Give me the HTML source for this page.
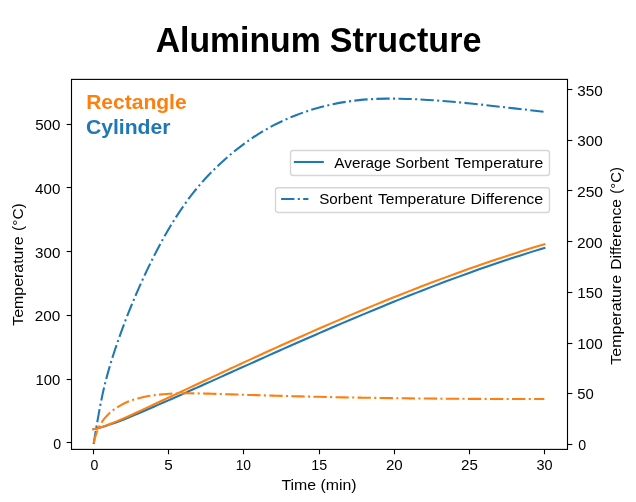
<!DOCTYPE html>
<html><head><meta charset="utf-8"><title>Aluminum Structure</title>
<style>html,body{margin:0;padding:0;background:#fff;}body{width:636px;height:502px;overflow:hidden;font-family:"Liberation Sans",sans-serif;}svg{display:block;will-change:transform;}</style></head>
<body>
<svg width="636" height="502" viewBox="0 0 636 502" font-family="'Liberation Sans', sans-serif">
<rect width="636" height="502" fill="#fff"/>
<g>
<g fill="none" stroke-width="2.08" stroke-linejoin="round">
<path d="M93.50,429.30C94.15,429.16 94.79,429.01 95.44,428.85C96.50,428.60 97.56,428.33 98.62,428.05C99.92,427.70 101.23,427.33 102.53,426.95C104.02,426.51 105.52,426.04 107.01,425.56C108.66,425.02 110.31,424.46 111.97,423.88C113.76,423.25 115.55,422.59 117.34,421.92C119.25,421.20 121.16,420.45 123.08,419.69C125.10,418.89 127.13,418.07 129.16,417.23C131.29,416.35 133.42,415.45 135.55,414.55C137.78,413.61 140.00,412.66 142.23,411.70C144.55,410.71 146.87,409.71 149.19,408.71C151.59,407.67 154.00,406.63 156.40,405.58C158.89,404.50 161.37,403.41 163.86,402.32C166.42,401.20 168.99,400.07 171.55,398.94C174.19,397.78 176.83,396.61 179.47,395.44C182.18,394.24 184.89,393.03 187.60,391.82C190.37,390.59 193.15,389.34 195.93,388.10C198.78,386.83 201.62,385.55 204.47,384.28C207.37,382.97 210.28,381.66 213.19,380.36C216.16,379.02 219.13,377.68 222.10,376.34C225.13,374.98 228.16,373.61 231.19,372.25C234.28,370.86 237.37,369.46 240.46,368.07C243.60,366.66 246.75,365.24 249.90,363.83C253.10,362.39 256.30,360.96 259.50,359.52C262.75,358.07 266.01,356.61 269.26,355.16C272.57,353.68 275.87,352.21 279.18,350.74C282.54,349.25 285.90,347.76 289.26,346.27C292.66,344.76 296.07,343.26 299.48,341.76C302.94,340.24 306.40,338.73 309.85,337.21C313.36,335.68 316.86,334.16 320.37,332.63C323.92,331.09 327.47,329.56 331.03,328.03C334.63,326.48 338.22,324.94 341.82,323.40C345.47,321.85 349.11,320.30 352.75,318.76C356.44,317.20 360.13,315.65 363.82,314.11C367.55,312.55 371.28,310.99 375.01,309.45C378.79,307.89 382.56,306.34 386.34,304.80C390.16,303.24 393.97,301.70 397.79,300.16C401.65,298.61 405.51,297.07 409.37,295.54C413.27,293.99 417.16,292.46 421.06,290.94C425.00,289.40 428.94,287.88 432.88,286.37C436.86,284.85 440.84,283.33 444.82,281.84C448.84,280.33 452.86,278.84 456.87,277.36C460.93,275.86 464.99,274.39 469.04,272.93C473.14,271.45 477.23,270.00 481.33,268.56C485.46,267.11 489.59,265.68 493.72,264.26C497.89,262.84 502.06,261.43 506.23,260.04C510.44,258.65 514.64,257.27 518.85,255.91C523.09,254.55 527.33,253.20 531.57,251.88C535.85,250.55 540.12,249.24 544.40,247.95" stroke="#1f77b4" stroke-linecap="square"/>
<path d="M93.50,429.30C94.15,429.14 94.79,428.97 95.44,428.79C96.50,428.50 97.56,428.20 98.62,427.88C99.92,427.49 101.23,427.08 102.53,426.65C104.02,426.16 105.52,425.65 107.01,425.12C108.66,424.52 110.31,423.91 111.97,423.27C113.76,422.57 115.55,421.85 117.34,421.11C119.25,420.32 121.16,419.50 123.08,418.67C125.10,417.78 127.13,416.88 129.16,415.96C131.29,414.99 133.42,414.01 135.55,413.03C137.78,412.00 140.00,410.96 142.23,409.92C144.55,408.84 146.87,407.76 149.19,406.67C151.59,405.55 154.00,404.42 156.40,403.30C158.89,402.13 161.37,400.97 163.86,399.80C166.42,398.60 168.99,397.40 171.55,396.19C174.19,394.95 176.83,393.71 179.47,392.47C182.18,391.20 184.89,389.93 187.60,388.66C190.37,387.35 193.15,386.05 195.93,384.74C198.78,383.41 201.62,382.07 204.47,380.74C207.37,379.38 210.28,378.01 213.19,376.65C216.16,375.26 219.13,373.88 222.10,372.49C225.13,371.08 228.16,369.67 231.19,368.26C234.28,366.83 237.37,365.39 240.46,363.97C243.60,362.51 246.75,361.06 249.90,359.62C253.10,358.14 256.30,356.68 259.50,355.21C262.75,353.73 266.01,352.24 269.26,350.77C272.57,349.27 275.87,347.77 279.18,346.28C282.54,344.77 285.90,343.26 289.26,341.76C292.66,340.23 296.07,338.72 299.48,337.20C302.94,335.67 306.40,334.14 309.85,332.63C313.36,331.09 316.86,329.55 320.37,328.03C323.92,326.48 327.47,324.94 331.03,323.41C334.63,321.86 338.22,320.32 341.82,318.79C345.47,317.23 349.11,315.69 352.75,314.16C356.44,312.60 360.13,311.06 363.82,309.53C367.55,307.98 371.28,306.43 375.01,304.90C378.79,303.36 382.56,301.82 386.34,300.29C390.16,298.75 393.97,297.22 397.79,295.70C401.65,294.16 405.51,292.64 409.37,291.13C413.27,289.60 417.16,288.09 421.06,286.59C425.00,285.07 428.94,283.57 432.88,282.08C436.86,280.58 440.84,279.09 444.82,277.62C448.84,276.13 452.86,274.66 456.87,273.20C460.93,271.73 464.99,270.28 469.04,268.84C473.14,267.39 477.23,265.96 481.33,264.54C485.46,263.11 489.59,261.70 493.72,260.31C497.89,258.90 502.06,257.52 506.23,256.15C510.44,254.77 514.64,253.41 518.85,252.08C523.09,250.73 527.33,249.40 531.57,248.09C535.85,246.77 540.12,245.47 544.40,244.20" stroke="#ff7f0e" stroke-linecap="square"/>
<path d="M93.60,444.00C93.64,443.75 93.68,443.51 93.72,443.26C93.81,442.76 93.89,442.26 93.98,441.75C94.09,441.07 94.21,440.39 94.32,439.71C94.46,438.87 94.60,438.03 94.74,437.20C94.90,436.23 95.06,435.25 95.22,434.28C95.40,433.19 95.59,432.09 95.77,431.00C95.97,429.79 96.17,428.58 96.37,427.37C96.60,426.05 96.82,424.74 97.04,423.42C97.28,422.01 97.53,420.59 97.78,419.17C98.04,417.66 98.31,416.15 98.58,414.64C98.86,413.03 99.16,411.43 99.45,409.83C99.77,408.14 100.09,406.45 100.42,404.76C100.76,402.98 101.11,401.21 101.48,399.44C101.86,397.59 102.25,395.73 102.65,393.88C103.07,391.95 103.51,390.02 103.96,388.10C104.43,386.09 104.91,384.09 105.42,382.09C105.94,380.01 106.49,377.94 107.05,375.87C107.63,373.73 108.23,371.59 108.84,369.45C109.48,367.24 110.14,365.03 110.81,362.83C111.50,360.56 112.21,358.29 112.94,356.03C113.69,353.69 114.45,351.36 115.23,349.04C116.03,346.65 116.84,344.26 117.67,341.88C118.52,339.43 119.38,336.99 120.26,334.56C121.15,332.06 122.06,329.56 122.99,327.08C123.94,324.52 124.90,321.98 125.87,319.44C126.87,316.84 127.88,314.25 128.91,311.67C129.97,309.02 131.03,306.39 132.12,303.76C133.23,301.07 134.35,298.39 135.49,295.72C136.66,292.99 137.84,290.27 139.04,287.56C140.26,284.79 141.51,282.03 142.77,279.29C144.06,276.48 145.36,273.69 146.69,270.91C148.04,268.07 149.41,265.25 150.80,262.44C152.21,259.57 153.65,256.72 155.11,253.87C156.59,250.98 158.10,248.10 159.63,245.23C161.20,242.31 162.78,239.41 164.41,236.52C166.06,233.58 167.74,230.65 169.47,227.74C171.22,224.79 173.02,221.84 174.87,218.92C176.75,215.94 178.68,212.98 180.67,210.05C182.69,207.07 184.76,204.12 186.89,201.20C189.06,198.24 191.27,195.32 193.55,192.46C195.86,189.54 198.22,186.68 200.64,183.89C203.09,181.05 205.60,178.28 208.17,175.57C210.77,172.82 213.43,170.13 216.14,167.50C218.89,164.83 221.69,162.22 224.56,159.66C227.46,157.07 230.41,154.54 233.42,152.08C236.47,149.58 239.58,147.16 242.74,144.80C245.94,142.42 249.20,140.12 252.51,137.90C255.86,135.65 259.27,133.49 262.72,131.42C266.23,129.33 269.78,127.34 273.39,125.45C277.04,123.53 280.75,121.73 284.50,120.02C288.30,118.30 292.14,116.68 296.03,115.17C299.96,113.64 303.94,112.22 307.95,110.91C312.02,109.58 316.12,108.37 320.25,107.26C324.43,106.14 328.64,105.13 332.89,104.24C337.18,103.33 341.50,102.54 345.84,101.86C350.22,101.17 354.64,100.60 359.06,100.14C363.54,99.68 368.03,99.33 372.53,99.09C377.08,98.84 381.64,98.70 386.21,98.64C390.82,98.57 395.43,98.60 400.04,98.69C404.70,98.78 409.36,98.94 414.00,99.15C418.69,99.36 423.37,99.62 428.03,99.92C432.74,100.22 437.44,100.55 442.13,100.92C446.86,101.29 451.59,101.70 456.31,102.13C461.07,102.57 465.83,103.03 470.59,103.51C475.39,104.00 480.19,104.51 484.99,105.04C489.83,105.57 494.68,106.11 499.53,106.66C504.43,107.22 509.34,107.78 514.25,108.35C519.21,108.92 524.18,109.49 529.16,110.06C534.19,110.63 539.24,111.20 544.30,111.75" stroke="#1f77b4" stroke-dasharray="13.33 3.33 2.08 3.33"/>
<path d="M93.60,444.00C93.64,443.82 93.67,443.64 93.71,443.46C93.79,443.09 93.87,442.73 93.95,442.36C94.06,441.87 94.17,441.37 94.28,440.88C94.42,440.27 94.57,439.67 94.72,439.07C94.90,438.37 95.08,437.67 95.28,436.98C95.50,436.20 95.73,435.43 95.97,434.66C96.24,433.81 96.52,432.97 96.83,432.14C97.16,431.23 97.51,430.33 97.88,429.45C98.29,428.49 98.72,427.55 99.19,426.63C99.68,425.64 100.21,424.67 100.78,423.73C101.38,422.72 102.02,421.73 102.70,420.78C103.41,419.76 104.17,418.78 104.97,417.82C105.82,416.82 106.71,415.85 107.64,414.92C108.62,413.94 109.64,413.00 110.70,412.10C111.81,411.16 112.95,410.27 114.13,409.42C115.35,408.53 116.60,407.69 117.88,406.90C119.20,406.08 120.55,405.32 121.92,404.60C123.33,403.85 124.77,403.16 126.23,402.51C127.74,401.85 129.27,401.23 130.82,400.66C132.42,400.08 134.04,399.54 135.67,399.05C137.36,398.54 139.06,398.08 140.77,397.67C142.54,397.24 144.32,396.85 146.11,396.51C147.95,396.16 149.81,395.84 151.66,395.57C153.57,395.28 155.49,395.04 157.41,394.82C159.38,394.60 161.35,394.41 163.32,394.24C165.34,394.07 167.36,393.93 169.38,393.81C171.45,393.69 173.52,393.60 175.58,393.52C177.70,393.44 179.81,393.39 181.92,393.36C184.08,393.32 186.24,393.31 188.40,393.31C190.60,393.31 192.80,393.32 195.01,393.35C197.25,393.38 199.50,393.43 201.75,393.48C204.04,393.53 206.33,393.60 208.62,393.66C210.96,393.73 213.29,393.81 215.63,393.88C218.00,393.95 220.38,394.03 222.76,394.10C225.18,394.18 227.60,394.26 230.02,394.33C232.48,394.41 234.94,394.49 237.40,394.56C239.90,394.64 242.41,394.72 244.91,394.80C247.45,394.88 250.00,394.95 252.54,395.03C255.12,395.11 257.71,395.19 260.29,395.27C262.91,395.34 265.54,395.42 268.16,395.50C270.82,395.58 273.49,395.65 276.15,395.73C278.85,395.80 281.55,395.88 284.26,395.95C287.00,396.03 289.74,396.10 292.48,396.17C295.26,396.25 298.04,396.32 300.82,396.39C303.64,396.46 306.45,396.53 309.27,396.59C312.13,396.66 314.98,396.73 317.84,396.79C320.73,396.86 323.62,396.92 326.52,396.99C329.45,397.05 332.38,397.11 335.31,397.17C338.27,397.23 341.24,397.29 344.21,397.35C347.21,397.41 350.21,397.47 353.22,397.52C356.26,397.58 359.30,397.63 362.34,397.68C365.41,397.73 368.49,397.79 371.56,397.83C374.67,397.88 377.78,397.93 380.90,397.98C384.04,398.03 387.19,398.07 390.34,398.11C393.52,398.16 396.70,398.20 399.88,398.24C403.10,398.28 406.32,398.32 409.54,398.36C412.79,398.40 416.04,398.43 419.29,398.47C422.58,398.50 425.87,398.53 429.15,398.56C432.47,398.59 435.79,398.62 439.12,398.65C442.47,398.68 445.83,398.70 449.18,398.73C452.57,398.75 455.96,398.77 459.35,398.80C462.77,398.82 466.19,398.83 469.62,398.85C473.07,398.87 476.53,398.88 479.99,398.90C483.48,398.91 486.97,398.92 490.46,398.93C493.98,398.94 497.51,398.95 501.03,398.96C504.59,398.97 508.14,398.97 511.70,398.97C515.29,398.98 518.88,398.98 522.47,398.98C526.09,398.98 529.71,398.97 533.33,398.97C536.99,398.96 540.64,398.96 544.30,398.95" stroke="#ff7f0e" stroke-dasharray="13.33 3.33 2.08 3.33" stroke-dashoffset="-0.85"/>
</g>
<rect x="71.5" y="79.4" width="496.0" height="370.0" fill="none" stroke="#000" stroke-width="1.11" stroke-linejoin="miter"/>
<g stroke="#000" stroke-width="1.11">
<line x1="93.50" y1="449.4" x2="93.50" y2="454.26"/>
<line x1="168.50" y1="449.4" x2="168.50" y2="454.26"/>
<line x1="243.50" y1="449.4" x2="243.50" y2="454.26"/>
<line x1="319.50" y1="449.4" x2="319.50" y2="454.26"/>
<line x1="394.50" y1="449.4" x2="394.50" y2="454.26"/>
<line x1="469.50" y1="449.4" x2="469.50" y2="454.26"/>
<line x1="544.50" y1="449.4" x2="544.50" y2="454.26"/>
<line x1="71.5" y1="442.50" x2="66.64" y2="442.50"/>
<line x1="71.5" y1="379.50" x2="66.64" y2="379.50"/>
<line x1="71.5" y1="315.50" x2="66.64" y2="315.50"/>
<line x1="71.5" y1="251.50" x2="66.64" y2="251.50"/>
<line x1="71.5" y1="187.50" x2="66.64" y2="187.50"/>
<line x1="71.5" y1="124.50" x2="66.64" y2="124.50"/>
<line x1="567.5" y1="444.50" x2="572.36" y2="444.50"/>
<line x1="567.5" y1="393.50" x2="572.36" y2="393.50"/>
<line x1="567.5" y1="343.50" x2="572.36" y2="343.50"/>
<line x1="567.5" y1="292.50" x2="572.36" y2="292.50"/>
<line x1="567.5" y1="241.50" x2="572.36" y2="241.50"/>
<line x1="567.5" y1="190.50" x2="572.36" y2="190.50"/>
<line x1="567.5" y1="140.50" x2="572.36" y2="140.50"/>
<line x1="567.5" y1="89.50" x2="572.36" y2="89.50"/>
</g>
<rect x="290.5" y="150.5" width="259.00" height="25.00" rx="2.8" ry="2.8" fill="#fff" fill-opacity="0.8" stroke="#cccccc" stroke-opacity="0.8" stroke-width="1.39"/>
<line x1="294.90" y1="162.00" x2="322.80" y2="162.00" stroke="#1f77b4" stroke-width="2.08" stroke-linecap="square"/>
<rect x="275.5" y="187.7" width="274.00" height="24.80" rx="2.8" ry="2.8" fill="#fff" fill-opacity="0.8" stroke="#cccccc" stroke-opacity="0.8" stroke-width="1.39"/>
<line x1="281.10" y1="199.00" x2="308.40" y2="199.00" stroke="#1f77b4" stroke-width="2.08" stroke-dasharray="13.33 3.33 2.08 3.33"/>
<text x="90.52" y="469.90" font-size="14.5" font-weight="normal" fill="#000" textLength="7.86" lengthAdjust="spacingAndGlyphs">0</text>
<text x="164.22" y="469.90" font-size="14.5" font-weight="normal" fill="#000" textLength="8.50" lengthAdjust="spacingAndGlyphs">5</text>
<text x="235.63" y="469.90" font-size="14.5" font-weight="normal" fill="#000" textLength="15.41" lengthAdjust="spacingAndGlyphs">10</text>
<text x="311.37" y="469.90" font-size="14.5" font-weight="normal" fill="#000" textLength="15.91" lengthAdjust="spacingAndGlyphs">15</text>
<text x="385.99" y="469.90" font-size="14.5" font-weight="normal" fill="#000" textLength="16.78" lengthAdjust="spacingAndGlyphs">20</text>
<text x="461.09" y="469.90" font-size="14.5" font-weight="normal" fill="#000" textLength="16.82" lengthAdjust="spacingAndGlyphs">25</text>
<text x="536.45" y="469.90" font-size="14.5" font-weight="normal" fill="#000" textLength="16.11" lengthAdjust="spacingAndGlyphs">30</text>
<text x="53.36" y="448.80" font-size="14.5" font-weight="normal" fill="#000" textLength="7.90" lengthAdjust="spacingAndGlyphs">0</text>
<text x="35.47" y="385.04" font-size="14.5" font-weight="normal" fill="#000" textLength="24.80" lengthAdjust="spacingAndGlyphs">100</text>
<text x="34.88" y="321.28" font-size="14.5" font-weight="normal" fill="#000" textLength="25.50" lengthAdjust="spacingAndGlyphs">200</text>
<text x="35.13" y="257.52" font-size="14.5" font-weight="normal" fill="#000" textLength="25.25" lengthAdjust="spacingAndGlyphs">300</text>
<text x="35.11" y="193.76" font-size="14.5" font-weight="normal" fill="#000" textLength="25.29" lengthAdjust="spacingAndGlyphs">400</text>
<text x="35.19" y="130.00" font-size="14.5" font-weight="normal" fill="#000" textLength="25.22" lengthAdjust="spacingAndGlyphs">500</text>
<text x="578.26" y="449.95" font-size="14.5" font-weight="normal" fill="#000" textLength="7.90" lengthAdjust="spacingAndGlyphs">0</text>
<text x="577.24" y="399.37" font-size="14.5" font-weight="normal" fill="#000" textLength="16.53" lengthAdjust="spacingAndGlyphs">50</text>
<text x="577.25" y="348.78" font-size="14.5" font-weight="normal" fill="#000" textLength="25.43" lengthAdjust="spacingAndGlyphs">100</text>
<text x="577.25" y="298.19" font-size="14.5" font-weight="normal" fill="#000" textLength="25.43" lengthAdjust="spacingAndGlyphs">150</text>
<text x="576.98" y="247.61" font-size="14.5" font-weight="normal" fill="#000" textLength="25.71" lengthAdjust="spacingAndGlyphs">200</text>
<text x="576.97" y="197.03" font-size="14.5" font-weight="normal" fill="#000" textLength="26.12" lengthAdjust="spacingAndGlyphs">250</text>
<text x="577.22" y="146.44" font-size="14.5" font-weight="normal" fill="#000" textLength="25.46" lengthAdjust="spacingAndGlyphs">300</text>
<text x="577.22" y="95.85" font-size="14.5" font-weight="normal" fill="#000" textLength="25.46" lengthAdjust="spacingAndGlyphs">350</text>
<text x="281.45" y="489.70" font-size="14.5" font-weight="normal" fill="#000" textLength="75.17" lengthAdjust="spacingAndGlyphs">Time (min)</text>
<text transform="translate(22.70,325.50) rotate(-90)" x="-0.25" y="0" font-size="14.5" font-weight="normal" fill="#000" textLength="89.39" lengthAdjust="spacingAndGlyphs">Temperature</text>
<text transform="translate(22.70,325.50) rotate(-90)" x="94.58" y="0" font-size="14.5" font-weight="normal" fill="#000" textLength="27.62" lengthAdjust="spacingAndGlyphs">(°C)</text>
<text transform="translate(620.80,364.40) rotate(-90)" x="-0.25" y="0" font-size="14.5" font-weight="normal" fill="#000" textLength="89.70" lengthAdjust="spacingAndGlyphs">Temperature</text>
<text transform="translate(620.80,364.40) rotate(-90)" x="94.63" y="0" font-size="14.5" font-weight="normal" fill="#000" textLength="70.74" lengthAdjust="spacingAndGlyphs">Difference</text>
<text transform="translate(620.80,364.40) rotate(-90)" x="170.74" y="0" font-size="14.5" font-weight="normal" fill="#000" textLength="26.57" lengthAdjust="spacingAndGlyphs">(°C)</text>
<text x="155.67" y="51.80" font-size="35.2" font-weight="bold" fill="#000" textLength="165.09" lengthAdjust="spacingAndGlyphs">Aluminum</text>
<text x="329.87" y="51.80" font-size="35.2" font-weight="bold" fill="#000" textLength="151.48" lengthAdjust="spacingAndGlyphs">Structure</text>
<text x="86.19" y="108.90" font-size="20.5" font-weight="bold" fill="#ff7f0e" textLength="100.44" lengthAdjust="spacingAndGlyphs">Rectangle</text>
<text x="85.94" y="134.20" font-size="20.5" font-weight="bold" fill="#1f77b4" textLength="84.56" lengthAdjust="spacingAndGlyphs">Cylinder</text>
<text x="334.25" y="167.80" font-size="14.5" font-weight="normal" fill="#000" textLength="56.87" lengthAdjust="spacingAndGlyphs">Average</text>
<text x="395.27" y="167.80" font-size="14.5" font-weight="normal" fill="#000" textLength="53.83" lengthAdjust="spacingAndGlyphs">Sorbent</text>
<text x="454.55" y="167.80" font-size="14.5" font-weight="normal" fill="#000" textLength="88.64" lengthAdjust="spacingAndGlyphs">Temperature</text>
<text x="319.23" y="204.00" font-size="14.5" font-weight="normal" fill="#000" textLength="53.22" lengthAdjust="spacingAndGlyphs">Sorbent</text>
<text x="377.96" y="204.00" font-size="14.5" font-weight="normal" fill="#000" textLength="87.88" lengthAdjust="spacingAndGlyphs">Temperature</text>
<text x="470.55" y="204.00" font-size="14.5" font-weight="normal" fill="#000" textLength="72.65" lengthAdjust="spacingAndGlyphs">Difference</text>
</g>
</svg>
</body></html>
